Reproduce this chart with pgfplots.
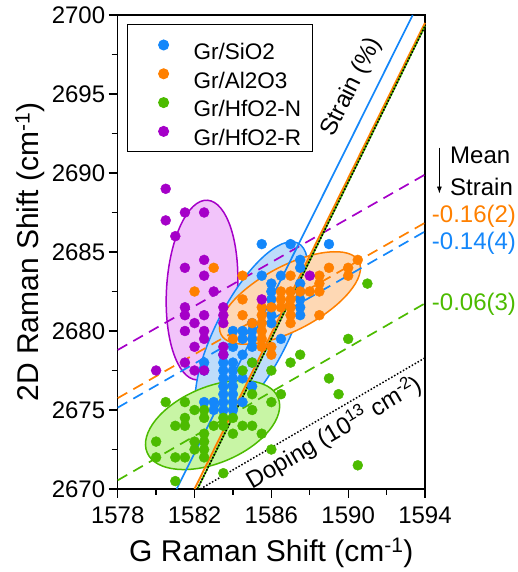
\documentclass[border=0pt]{standalone}
\usepackage{fontspec}
\setmainfont{Liberation Sans}
\usepackage{pgfplots}
\pgfplotsset{compat=1.18}
\usetikzlibrary{arrows.meta}
\definecolor{cB}{RGB}{20,135,250}
\definecolor{cO}{RGB}{255,128,0}
\definecolor{cG}{RGB}{76,187,0}
\definecolor{cP}{RGB}{165,0,200}
\definecolor{fB}{RGB}{190,220,250}
\definecolor{fO}{RGB}{254,216,180}
\definecolor{fG}{RGB}{200,245,165}
\definecolor{fP}{RGB}{242,196,250}
\newcommand\fsT{\fontsize{24}{28}\selectfont}
\newcommand\fsL{\fontsize{30}{34}\selectfont}
\newcommand\fsG{\fontsize{22.5}{26}\selectfont}
\newcommand\fsR{\fontsize{24}{28}\selectfont}
\newcommand\fsA{\fontsize{24}{28}\selectfont}
\begin{document}
\begin{tikzpicture}
\path[use as bounding box] (-117.7pt,-83pt) rectangle (400.3pt,489pt);
\begin{axis}[
  scale only axis, width=307.3pt, height=474pt,
  xmin=1578, xmax=1594, ymin=2670, ymax=2700,
  xtick={1578,1582,1586,1590,1594}, minor xtick={1580,1584,1588,1592},
  ytick={2670,2675,2680,2685,2690,2695,2700},
  minor ytick={2672.5,2677.5,2682.5,2687.5,2692.5,2697.5},
  tick align=outside, xtick pos=bottom, ytick pos=left,
  major tick length=9pt, minor tick length=6pt,
  axis line style={line width=1.3pt},
  tick style={line width=1.3pt, black},
  clip=false,
  /pgf/number format/assume math mode=true,
  /pgf/number format/1000 sep={},
  ticklabel style={font=\fsT},
  xticklabel style={yshift=-5pt},
  label style={font=\fsL},
  xlabel style={yshift=-8pt},
  xlabel={G Raman Shift (cm\textsuperscript{-1})},
  ylabel={2D Raman Shift (cm\textsuperscript{-1})},
  legend style={at={(0.031,0.98)}, anchor=north west, draw=black, line width=1pt,
    font=\fsG, inner xsep=11pt, inner ysep=5.6pt, row sep=0pt,
    nodes={inner sep=0pt, text height=28.8pt, text depth=0pt}},
  legend cell align=left,
  legend image code/.code={\path (-24.4pt,0pt) (29.5pt,0pt); \draw[#1, mark repeat=2, mark phase=2] plot coordinates {(-24.4pt,0pt) (0pt,0pt) (29.5pt,0pt)};},
]
% ellipses
\draw[cP, line width=1.5pt, fill=fP, rotate around={86.6:(axis cs:1582.39,2682.59)}] (axis cs:1582.39,2682.59) ellipse (90pt and 35.5pt);
\draw[cB, line width=1.5pt, fill=fB, rotate around={62.9:(axis cs:1584.97,2679.81)}] (axis cs:1584.97,2679.81) ellipse (102pt and 36pt);
\draw[cO, line width=1.5pt, fill=fO, rotate around={28:(axis cs:1586.97,2682.09)}] (axis cs:1586.97,2682.09) ellipse (78pt and 32pt);
\draw[cG, line width=1.5pt, fill=fG, rotate around={22.8:(axis cs:1582.94,2674.05)}] (axis cs:1582.94,2674.05) ellipse (71pt and 38pt);

% Gr/SiO2
\addplot[only marks, mark=*, mark size=5pt, cB] coordinates {
(1585.5,2685.5) (1587,2685.5) (1589,2685.5)
(1587.5,2684.5) (1587.5,2684)
(1585.5,2683.5) (1586.5,2683.5)
(1586,2683) (1587.5,2683)
(1586,2682.5) (1587.5,2682.5)
(1586,2682) (1587.5,2682)
(1586,2681.5) (1587.5,2681.5)
(1586,2681) (1587.5,2681)
(1585,2680.5) (1586,2680.5)
(1584,2680) (1584.5,2680) (1585,2680)
(1584.5,2679.5) (1585,2679.5) (1586.5,2679.5)
(1584,2679) (1585,2679) (1584.5,2678.5) (1583.5,2678.5)
(1582.5,2678) (1583.5,2678) (1584,2678) (1585,2678)
(1582.5,2677.5) (1583.5,2677.5) (1584,2677.5)
(1583.5,2677) (1584,2677) (1584.5,2677)
(1583.5,2676.5) (1584,2676.5) (1585,2676.5)
(1583.5,2676) (1584,2676)
(1582.5,2675.5) (1583,2675.5) (1583.5,2675.5) (1584,2675.5) (1584.5,2675.5)
(1583,2675) (1583.5,2675) (1584,2675)
};
\addlegendentry{Gr/SiO2}
% Gr/Al2O3
\addplot[only marks, mark=*, mark size=5pt, cO] coordinates {
(1583,2684) (1582,2682.5)
(1584.5,2683.5) (1587,2683.5) (1589,2684) (1590,2684) (1590.5,2684.5) (1590,2683.5)
(1588.5,2683.5) (1588.5,2683) (1588.5,2682.5) (1588,2682.5) (1587.5,2682.5) (1587,2682.5) (1586.5,2682.5)
(1584.5,2682) (1586.5,2682) (1587,2682)
(1585.5,2681.5) (1586,2681.5) (1586.5,2681.5) (1587,2681.5)
(1584.5,2681) (1585.5,2681) (1587,2681) (1588.5,2681)
(1585,2680.5) (1585.5,2680.5) (1587,2680.5)
(1585.5,2680) (1584,2679.5) (1585.5,2679.5) (1585.5,2679) (1586,2679) (1586,2678.5)
};
\addlegendentry{Gr/Al2O3}
% Gr/HfO2-N
\addplot[only marks, mark=*, mark size=5pt, cG] coordinates {
(1580.5,2675.5) (1581.5,2675.5) (1582,2675) (1582.5,2675) (1582.5,2674.5)
(1581.5,2674.5) (1581,2674) (1581.5,2674) (1583,2674) (1583.5,2674.5) (1583.5,2674)
(1582.5,2673.5) (1582,2673) (1582.5,2673) (1582,2672.5) (1582.5,2672.5)
(1580,2673) (1580,2672) (1581,2672) (1581.5,2672) (1582.5,2672)
(1581,2670.5) (1583.5,2671) (1584,2673.5) (1584.5,2674) (1585,2674) (1584,2674.5)
(1585.5,2673.5) (1586,2672.5)
(1585,2675) (1585,2676) (1586,2675.5) (1586.5,2676) (1584.5,2677.5) (1585,2678)
(1586,2677.5) (1587,2678) (1587.5,2678.5) (1589,2677) (1589.5,2676) (1590,2679.5)
(1591,2683) (1590.5,2671.5)
};
\addlegendentry{Gr/HfO2-N}
% Gr/HfO2-R
\addplot[only marks, mark=*, mark size=5pt, cP] coordinates {
(1580.5,2689) (1581.5,2687.5) (1582.5,2687.5) (1580.5,2687) (1581,2686)
(1582.5,2684.5) (1581.5,2684) (1582.5,2683.5) (1583,2682.5)
(1581.5,2681.5) (1583.5,2681.5) (1581.5,2681) (1582.5,2681) (1583.5,2681)
(1582,2680.5) (1583.5,2680.5) (1581.5,2680) (1582.5,2680) (1582.5,2679.5)
(1582,2679) (1583.5,2679) (1583.5,2678.5) (1581.5,2678) (1582,2677.5)
(1582.5,2677.5) (1580,2677.5) (1585.5,2682) (1588,2683.5)
};
\addlegendentry{Gr/HfO2-R}

% doping (dashed) lines
\addplot[forget plot, cP, line width=1.7pt, dash pattern=on 11pt off 7pt] coordinates {(1578,2678.8) (1594,2689.9)};
\addplot[forget plot, cO, line width=1.7pt, dash pattern=on 11pt off 7pt] coordinates {(1578,2675.75) (1594,2686.85)};
\addplot[forget plot, cB, line width=1.7pt, dash pattern=on 11pt off 7pt] coordinates {(1578,2675.15) (1594,2686.3)};
\addplot[forget plot, cG, line width=1.7pt, dash pattern=on 11pt off 7pt] coordinates {(1578,2670.55) (1594,2681.75)};
% strain lines
\addplot[forget plot, cB, line width=1.7pt] coordinates {(1581.07,2670) (1593.36,2700)};
\addplot[forget plot, cO, line width=1.9pt] coordinates {(1582.0,2670) (1594,2699.5)};
\addplot[forget plot, cG, line width=1.7pt] coordinates {(1582.15,2670) (1594,2699.3)};
\addplot[forget plot, black, line width=1.6pt, dash pattern=on 1.6pt off 1.8pt] coordinates {(1582.15,2670) (1594,2699.3)};
\addplot[forget plot, black, line width=1.5pt, dash pattern=on 1.5pt off 1.9pt] coordinates {(1582.3,2670) (1594,2678.3)};

% annotations
\node[rotate=63.5, font=\fsA] at (axis cs:1590.2,2695.45) {Strain (\%)};
\node[rotate=30.4, font=\fsA] at (axis cs:1589.27,2673.58) {Doping (10\textsuperscript{13} cm\textsuperscript{-2})};
\node[anchor=west, font=\fsR, inner sep=0pt] at (axis cs:1595.3,2691.14) {Mean};
\node[anchor=west, font=\fsR, inner sep=0pt] at (axis cs:1595.3,2689.13) {Strain};
\draw[-{Latex[length=7pt,width=5pt]}, line width=0.8pt] (axis cs:1594.75,2691.6) -- (axis cs:1594.75,2688.7);
\node[anchor=west, font=\fsR, inner sep=0pt, text=cO] at (axis cs:1594.35,2687.28) {-0.16(2)};
\node[anchor=west, font=\fsR, inner sep=0pt, text=cB] at (axis cs:1594.35,2685.55) {-0.14(4)};
\node[anchor=west, font=\fsR, inner sep=0pt, text=cG] at (axis cs:1594.35,2681.71) {-0.06(3)};
\end{axis}
\end{tikzpicture}
\end{document}
